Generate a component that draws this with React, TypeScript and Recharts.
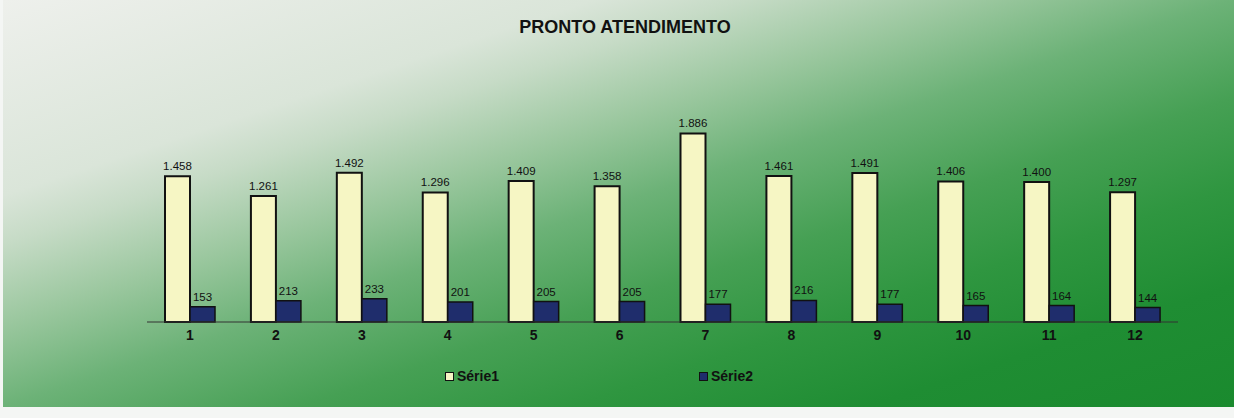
import { BarChart, Bar, XAxis, YAxis, LabelList } from 'recharts'

const categories = ['1', '2', '3', '4', '5', '6', '7', '8', '9', '10', '11', '12']
const serie1 = [1458, 1261, 1492, 1296, 1409, 1358, 1886, 1461, 1491, 1406, 1400, 1297]
const serie2 = [153, 213, 233, 201, 205, 205, 177, 216, 177, 165, 164, 144]

const chartData = categories.map((c, i) => ({ cat: c, s1: serie1[i], s2: serie2[i] }))

// 1458 -> "1.458"
function fmtPt(v: unknown) {
  return String(v).replace(/\B(?=(\d{3})+(?!\d))/g, '.')
}

const FONT = '"Liberation Sans", Arial, sans-serif'
const S1_FILL = '#f6f6c4'
const S2_FILL = '#1f2d6c'

export default function App() {
  return (
    <div style={{ position: 'absolute', left: 0, top: 0, width: 1234, height: 418, background: '#f4f6f4', fontFamily: FONT, overflow: 'hidden' }}>
      <div
        style={{
          position: 'absolute', left: 3, top: 0, width: 1231, height: 407,
          background: 'linear-gradient(to bottom right, #eef0ec 0%, #dae5d9 24%, #c6dbc6 30%, #9ac79e 40%, #6cb277 50%, #46a054 62%, #2f9640 73%, #1f8d33 85%, #1a8a2e 100%)',
        }}
      />
      <div style={{ position: 'absolute', top: 17, left: 8, width: '100%', textAlign: 'center', fontWeight: 700, fontSize: 18, color: '#111' }}>
        PRONTO ATENDIMENTO
      </div>
      <div style={{ position: 'absolute', left: 0, top: 0 }}>
        <BarChart
          width={1234}
          height={418}
          data={chartData}
          margin={{ top: 122, right: 56, bottom: 66, left: 147 }}
          barGap={0}
          barSize={25}
        >
          <XAxis
            dataKey="cat"
            tickLine={false}
            axisLine={{ stroke: '#333', strokeWidth: 1 }}
            tick={{ fontSize: 14, fontWeight: 700, fill: '#111', fontFamily: FONT }}
            height={30}
          />
          <YAxis hide domain={[0, 2000]} />
          <Bar dataKey="s1" fill={S1_FILL} stroke="#111" strokeWidth={2} isAnimationActive={false}>
            <LabelList dataKey="s1" position="top" offset={6} formatter={fmtPt} style={{ fontSize: 11.5, fill: '#111', fontFamily: FONT }} />
          </Bar>
          <Bar dataKey="s2" fill={S2_FILL} stroke="#111" strokeWidth={1.5} isAnimationActive={false}>
            <LabelList dataKey="s2" position="top" offset={6} formatter={fmtPt} style={{ fontSize: 11.5, fill: '#111', fontFamily: FONT }} />
          </Bar>
        </BarChart>
      </div>
      <div style={{ position: 'absolute', top: 368, left: 445, display: 'flex', alignItems: 'center', fontSize: 14, fontWeight: 700, color: '#111' }}>
        <span style={{ width: 7, height: 7, background: S1_FILL, border: '1px solid #111', marginRight: 3 }} />
        Série1
      </div>
      <div style={{ position: 'absolute', top: 368, left: 699, display: 'flex', alignItems: 'center', fontSize: 14, fontWeight: 700, color: '#111' }}>
        <span style={{ width: 7, height: 7, background: S2_FILL, border: '1px solid #111', marginRight: 3 }} />
        Série2
      </div>
    </div>
  )
}
